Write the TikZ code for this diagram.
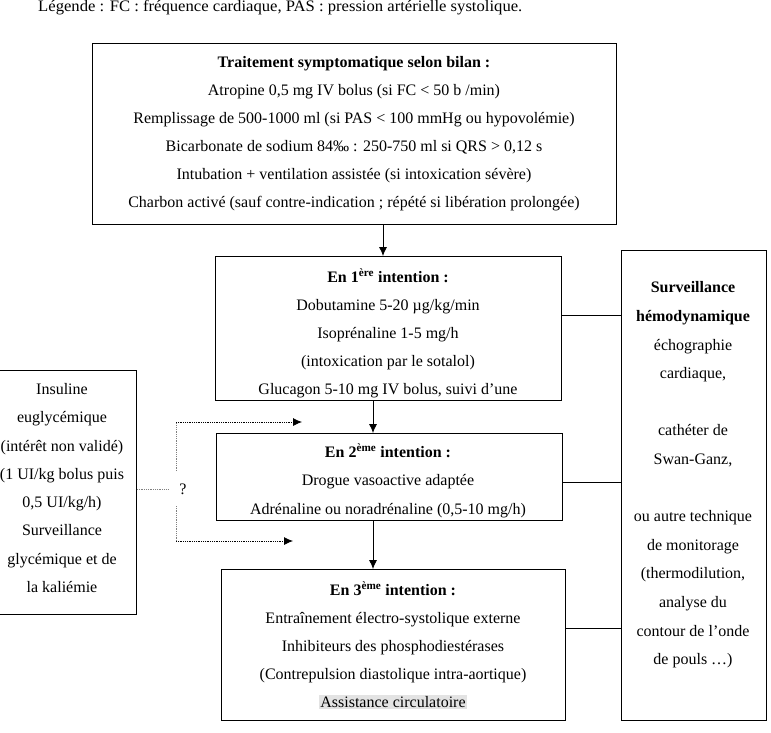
\documentclass[tikz,border=0pt]{standalone}
\usepackage{fontspec}
\setmainfont{Liberation Serif}
\usetikzlibrary{arrows.meta}
\begin{document}
\begin{tikzpicture}[x=1pt,y=-1pt,
  box/.style={draw, line width=0.9pt, inner sep=0pt, anchor=north west},
  txt/.style={align=center, inner sep=0pt, font=\fontsize{16}{#1}\selectfont},
  arr/.style={line width=0.8pt, -{Latex[length=9pt,width=8pt]}},
  dots/.style={gray, line width=0.8pt, densely dotted},
  darr/.style={dots, -{Latex[length=9pt,width=8pt]}, black},
  plain/.style={line width=0.8pt}]
\useasboundingbox (0,0) rectangle (771,732);
% legend
\node[anchor=base west, inner sep=0pt, font=\fontsize{16}{18}\selectfont] (leg) at (38,11.5)
  {\scalebox{1.04}[1]{Légende : FC : fréquence cardiaque, PAS : pression artérielle systolique.}};
% boxes
\node[box, minimum width=524pt, minimum height=181pt] (top) at (92,43) {};
\node[box, minimum width=346pt, minimum height=144pt] (b1) at (215,256) {};
\node[box, minimum width=346pt, minimum height=87pt] (b2) at (216,433) {};
\node[box, minimum width=344pt, minimum height=151pt] (b3) at (221,569) {};
\node[box, minimum width=145pt, minimum height=470pt] (rb) at (621,250) {};
\node[box, minimum width=148pt, minimum height=244pt] (lb) at (-12,370) {};
% texts
\node[txt=28] (ttop) at (354,134) {\textbf{Traitement symptomatique selon bilan :}\\
Atropine 0,5 mg IV bolus (si FC < 50 b /min)\\
Remplissage de 500-1000 ml (si PAS < 100 mmHg ou hypovolémie)\\
Bicarbonate de sodium 84‰ : 250-750 ml si QRS > 0,12 s\\
Intubation + ventilation assistée (si intoxication sévère)\\
Charbon activé (sauf contre-indication ; répété si libération prolongée)};
\node[txt=28] (t1) at (388,333) {\textbf{En 1\textsuperscript{ère} intention :}\\
Dobutamine 5-20 µg/kg/min\\
Isoprénaline 1-5 mg/h\\
(intoxication par le sotalol)\\
Glucagon 5-10 mg IV bolus, suivi d’une};
\node[txt=28.5] (t2) at (388,480.5) {\textbf{En 2\textsuperscript{ème} intention :}\\
Drogue vasoactive adaptée\\
Adrénaline ou noradrénaline (0,5-10 mg/h)};
\node[txt=28] (t3) at (393,645) {\textbf{En 3\textsuperscript{ème} intention :}\\
Entraînement électro-systolique externe\\
Inhibiteurs des phosphodiestérases\\
(Contrepulsion diastolique intra-aortique)\\
{\setlength{\fboxsep}{1pt}\colorbox{gray!22}{Assistance circulatoire}}};
\node[txt=28.6] (tr) at (693,475) {\textbf{Surveillance}\\
\textbf{hémodynamique}\\
échographie\\
cardiaque,\\
\mbox{}\\
cathéter de\\
Swan-Ganz,\\
\mbox{}\\
ou autre technique\\
de monitorage\\
(thermodilution,\\
analyse du\\
contour de l’onde\\
de pouls …)};
\node[txt=28.3] (tl) at (62,488) {Insuline\\
euglycémique\\
(intérêt non validé)\\
(1 UI/kg bolus puis\\
0,5 UI/kg/h)\\
Surveillance\\
glycémique et de\\
la kaliémie};
% arrows
\draw[arr] (top.south -| 383,0) -- (b1.north -| 383,0);
\draw[arr] (b1.south -| 373,0) -- (b2.north -| 373,0);
\draw[arr] (b2.south -| 373,0) -- (b3.north -| 373,0);
% lines to surveillance box
\draw[plain] (b1.east |- 0,315) -- (rb.west |- 0,315);
\draw[plain] (b2.east |- 0,482) -- (rb.west |- 0,482);
\draw[plain] (b3.east |- 0,628) -- (rb.west |- 0,628);
% dotted question connector
\node[inner sep=0pt, font=\fontsize{16}{18}\selectfont] (q) at (183,489) {?};
\coordinate (qa) at (302,422);
\coordinate (qb) at (293,541);
\draw[dots] (lb.east |- 0,489) -- (168,489);
\draw[dots] (176,471) -- (176,422);
\draw[dots] (176,506) -- (176,541);
\draw[darr] (176,422) -- (qa);
\draw[darr] (176,541) -- (qb);
\end{tikzpicture}
\end{document}
